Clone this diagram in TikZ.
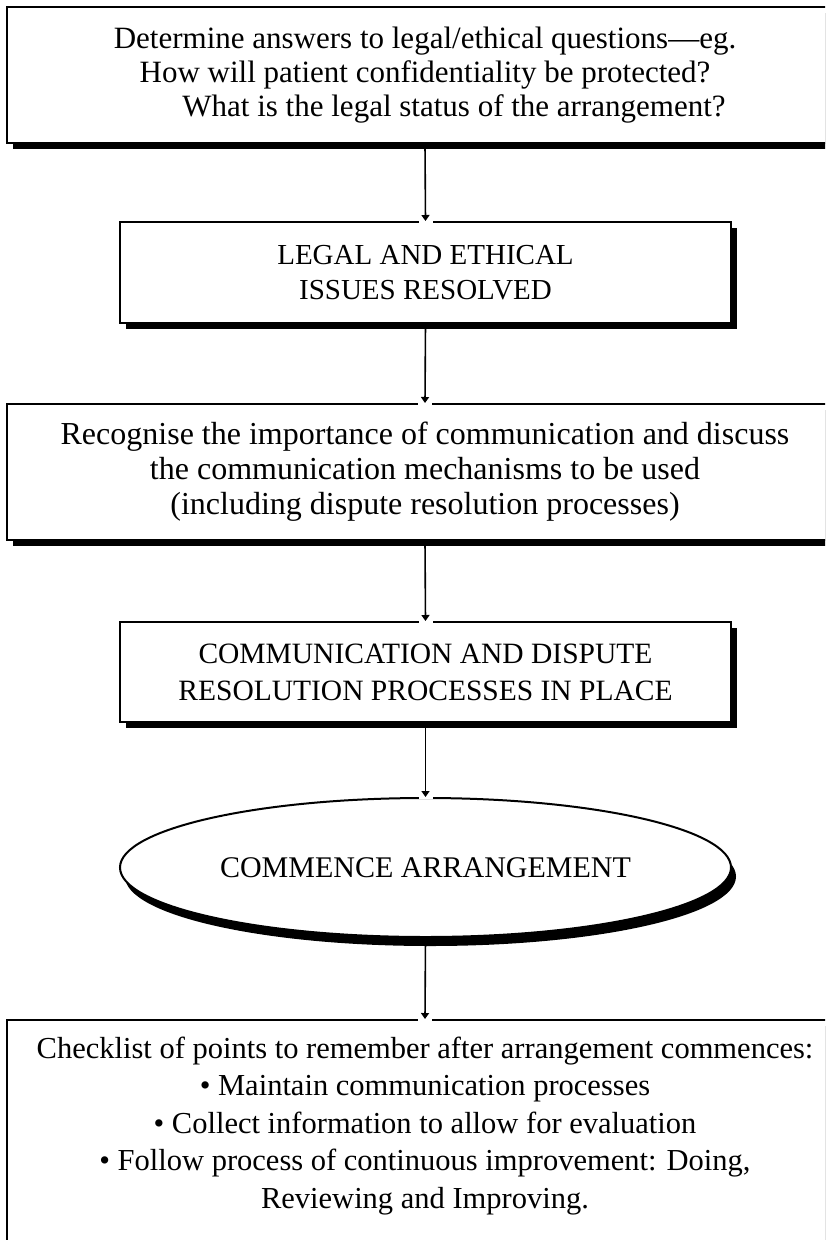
\documentclass[tikz,border=0pt]{standalone}
\usepackage{fontspec}
\setmainfont{Liberation Serif}
\usetikzlibrary{shadows,arrows.meta,shapes.geometric,calc}
\begin{document}
\begin{tikzpicture}[x=1pt,y=1pt,
  box/.style={draw, line width=2pt, fill=white, inner sep=0pt, align=center,
              font=\fontsize{29}{35}\selectfont},
  shadowed/.style={drop shadow={shadow xshift=6pt, shadow yshift=-6pt, opacity=1, fill=black}},
  ellshadow/.style={drop shadow={shadow xshift=5pt, shadow yshift=-9pt, opacity=1, fill=black}},
  txt/.style={align=center, inner sep=0pt, font=\fontsize{30.5}{37.5}\selectfont},
  conn/.style={line width=1.6pt, -{Triangle[width=8pt,length=6pt]}},
  gap/.style={white, line width=4pt},
]
\useasboundingbox (0,0) rectangle (825,-1240);
\clip (0,0) rectangle (825,-1240);
\node[box, shadowed, minimum width=836pt, minimum height=136pt,
      font=\fontsize{31}{34}\selectfont] (b1) at (425,-75)
  {Determine answers to legal/ethical questions—eg.\\
   How will patient confidentiality be protected?\\
   \hspace*{58pt}What is the legal status of the arrangement?};
\node[box, shadowed, minimum width=611pt, minimum height=101pt] (b2) at (425.5,-272.5)
  {LEGAL AND ETHICAL\\ ISSUES RESOLVED};
\node[box, shadowed, minimum width=836pt, minimum height=136pt,
      font=\fontsize{32}{35}\selectfont] (b3) at (425,-472)
  {Recognise the importance of communication and discuss\\
   the communication mechanisms to be used\\
   (including dispute resolution processes)};
\node[box, shadowed, minimum width=611pt, minimum height=100pt,
      font=\fontsize{29.5}{37}\selectfont] (b4) at (425.5,-672)
  {COMMUNICATION AND DISPUTE\\ RESOLUTION PROCESSES IN PLACE};
\node[box, ellipse, ellshadow, minimum width=611pt, minimum height=139pt,
      font=\fontsize{30}{36}\selectfont] (b5) at (425.5,-867.5)
  {COMMENCE ARRANGEMENT};
\node[box, shadowed, minimum width=836pt, minimum height=300pt] (b6) at (425,-1170) {};
\node[txt] (t6) at (425,-1126)
  {Checklist of points to remember after arrangement commences:\\
   • Maintain communication processes\\
   • Collect information to allow for evaluation\\
   • Follow process of continuous improvement: Doing,\\
   Reviewing and Improving.};
\foreach \a/\b in {b1/b2,b2/b3,b3/b4,b4/b5,b5/b6}{
  \draw[gap] ($(\b.north)+(-7,0)$) -- ($(\b.north)+(7,0)$);
  \draw[conn] (\a.south) -- (\b.north);
}
\end{tikzpicture}
\end{document}
